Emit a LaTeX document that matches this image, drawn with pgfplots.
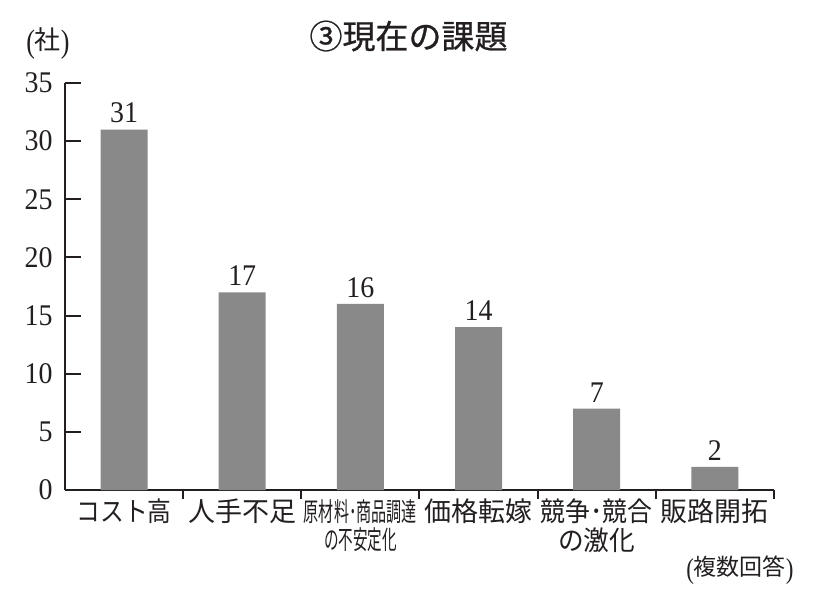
\documentclass[border=0pt]{standalone}
\usepackage{pgfplots}
\pgfplotsset{compat=1.18}
\usepackage{fontspec}
\setmainfont{Liberation Serif}
\newfontfamily\cjk{Noto Sans CJK JP}
\newfontfamily\cjkt[FakeBold=0.8]{Noto Sans CJK JP}
\definecolor{bargray}{HTML}{898989}
\definecolor{inkc}{HTML}{231F20}
\newcommand\lp{\raisebox{-0.12em}{\scalebox{1}[1.25]{(}}}
\newcommand\rp{\raisebox{-0.12em}{\scalebox{1}[1.25]{)}}}
\begin{document}
\begin{tikzpicture}
\begin{axis}[
  scale only axis, width=354.5pt, height=203.5pt,
  xmin=0, xmax=6, ymin=0, ymax=35,
  axis x line=bottom, axis y line=left,
  axis line style={-, draw=inkc, line width=1pt},
  tick align=inside,
  major tick length=4.5pt,
  xtick={1,2,3,4,5,6}, xticklabels={},
  xtick style={draw=inkc, line width=1pt},
  ytick={0,5,...,35},
  ytick style={draw=inkc, line width=1pt, /pgfplots/major tick length=8pt},
  /pgf/number format/assume math mode=true,
  yticklabel style={font=\fontsize{15}{18}\selectfont, text=inkc, anchor=east, inner sep=0pt, xshift=-6pt},
  yticklabel={\scalebox{0.93}[1]{\pgfmathprintnumber{\tick}}},
  ybar, bar width=23.5pt,
  nodes near coords={\scalebox{0.93}[1]{\pgfmathprintnumber{\pgfplotspointmeta}}},
  nodes near coords style={font=\fontsize{15}{18}\selectfont, text=inkc, anchor=south, inner sep=0pt, yshift=3pt},
  clip=false,
]
\addplot[fill=bargray, draw=none] coordinates {(0.5,31) (1.5,17) (2.5,16) (3.5,14) (4.5,7) (5.5,2)};
\coordinate (O) at (axis cs:0,0);
\begin{scope}[every node/.style={font=\fontsize{13.5}{16}\selectfont\cjk, text=inkc, inner sep=0pt}]
\node at (axis cs:0.5,-1.85) {\scalebox{0.88}[1]{コスト高}};
\node at (axis cs:1.5,-1.85) {人手不足};
\node[font=\fontsize{13}{16}\selectfont\cjk] at (axis cs:2.5,-1.85) {\scalebox{0.58}[1]{原材料･商品調達}};
\node[font=\fontsize{13}{16}\selectfont\cjk] at (axis cs:2.5,-4.26) {\scalebox{0.56}[1]{の不安定化}};
\node at (axis cs:3.5,-1.85) {価格転嫁};
\node at (axis cs:4.5,-1.85) {\scalebox{0.92}[1]{競争･競合}};
\node at (axis cs:4.5,-4.35) {\scalebox{0.95}[1]{の激化}};
\node at (axis cs:5.5,-1.85) {販路開拓};
\end{scope}
\node[font=\fontsize{16.5}{20}\selectfont\cjkt, text=inkc, inner sep=0pt] at (axis cs:2.907,39.04) {③現在の課題};
\node[font=\fontsize{13}{16}\selectfont, text=inkc, inner sep=0pt] at (axis cs:-0.144,38.39) {\lp{\cjk 社}\rp};
\node[font=\fontsize{11.5}{14}\selectfont, text=inkc, inner sep=0pt] at (axis cs:5.712,-6.88) {\lp{\cjk 複数回答}\rp};
\end{axis}
\pgfresetboundingbox
\path[use as bounding box] ([shift={(-32.5pt,-56pt)}]O) rectangle ([shift={(377.5pt,245pt)}]O);
\end{tikzpicture}
\end{document}
